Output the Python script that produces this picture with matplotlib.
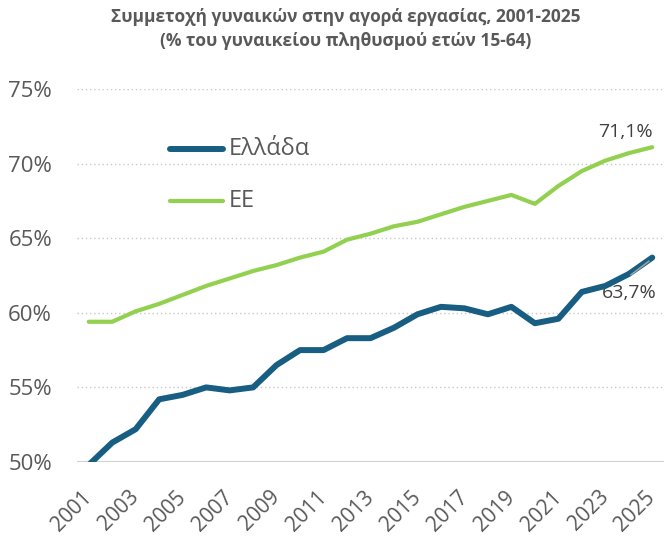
import matplotlib
matplotlib.use('Agg')
import matplotlib.pyplot as plt
import numpy as np

years = list(range(2001, 2026))
greece = [49.8, 51.3, 52.2, 54.2, 54.5, 55.0, 54.8, 55.0, 56.5, 57.5, 57.5, 58.3, 58.3,
          59.0, 59.9, 60.4, 60.3, 59.9, 60.4, 59.3, 59.6, 61.4, 61.8, 62.6, 63.7]
eu = [59.4, 59.4, 60.1, 60.6, 61.2, 61.8, 62.3, 62.8, 63.2, 63.7, 64.1, 64.9, 65.3,
      65.8, 66.1, 66.6, 67.1, 67.5, 67.9, 67.3, 68.5, 69.5, 70.2, 70.7, 71.1]
yticks = [50, 55, 60, 65, 70, 75]

GR = "#175E82"
EUC = "#92D050"
TXT = "#595959"
FONT = ["Open Sans", "DejaVu Sans"]
plt.rcParams['font.family'] = FONT

fig = plt.figure(figsize=(6.64, 5.4), dpi=100)
ax = fig.add_axes([77/664, 78/540, 587/664, 373/540])
ax.set_xlim(2000.5, 2025.5)
ax.set_ylim(50, 75)

for v in yticks[1:]:
    ax.axhline(v, color="#c8c8c8", lw=1.0, ls=(0, (1, 2)), zorder=1)
ax.axhline(50, color="#d0d0d0", lw=1.5, zorder=1)

ax.plot(years, eu, color=EUC, lw=3.0, solid_capstyle='round', zorder=3)
ax.plot(years, greece, color=GR, lw=4.3, solid_capstyle='round', zorder=4, clip_on=True)

# leader line for the Greek label
ax.plot([2024.1, 2024.85], [62.55, 63.45], color="#a0a0a0", lw=1.2, zorder=5)

ax.text(2025, 71.5, "71,1%", ha='right', va='bottom', fontsize=14, color="#404040")
ax.text(2022.85, 61.3, "63,7%", ha='left', va='center', fontsize=14, color="#404040")

ax.set_yticks(yticks)
ax.set_yticklabels([f"{v}%" for v in yticks], fontsize=16, color=TXT)
ax.set_xticks(years[::2])
ax.set_xticklabels([str(y) for y in years[::2]], fontsize=15, color=TXT,
                   rotation=45, ha='right', va='center', rotation_mode='anchor')
ax.tick_params(length=0, pad=18, axis='y')
ax.tick_params(length=0, pad=23, axis='x')
for s in ax.spines.values():
    s.set_visible(False)

# legend drawn by hand
ax.plot([2004.45, 2006.7], [71.0, 71.0], color=GR, lw=4.3, solid_capstyle='round',
        clip_on=False)
ax.text(2006.95, 71.0, "Ελλάδα", fontsize=17, color=TXT, va='center')
ax.plot([2004.45, 2006.7], [67.5, 67.5], color=EUC, lw=3.0, solid_capstyle='round',
        clip_on=False)
ax.text(2006.95, 67.5, "ΕΕ", fontsize=17, color=TXT, va='center')

fig.text(0.52, 0.985, "Συμμετοχή γυναικών στην αγορά εργασίας, 2001-2025\n"
         "(% του γυναικείου πληθυσμού ετών 15-64)",
         ha='center', va='top', fontsize=12.5, fontweight='bold', color=TXT,
         linespacing=1.45)

fig.savefig("out.png", dpi=100, facecolor='white')
